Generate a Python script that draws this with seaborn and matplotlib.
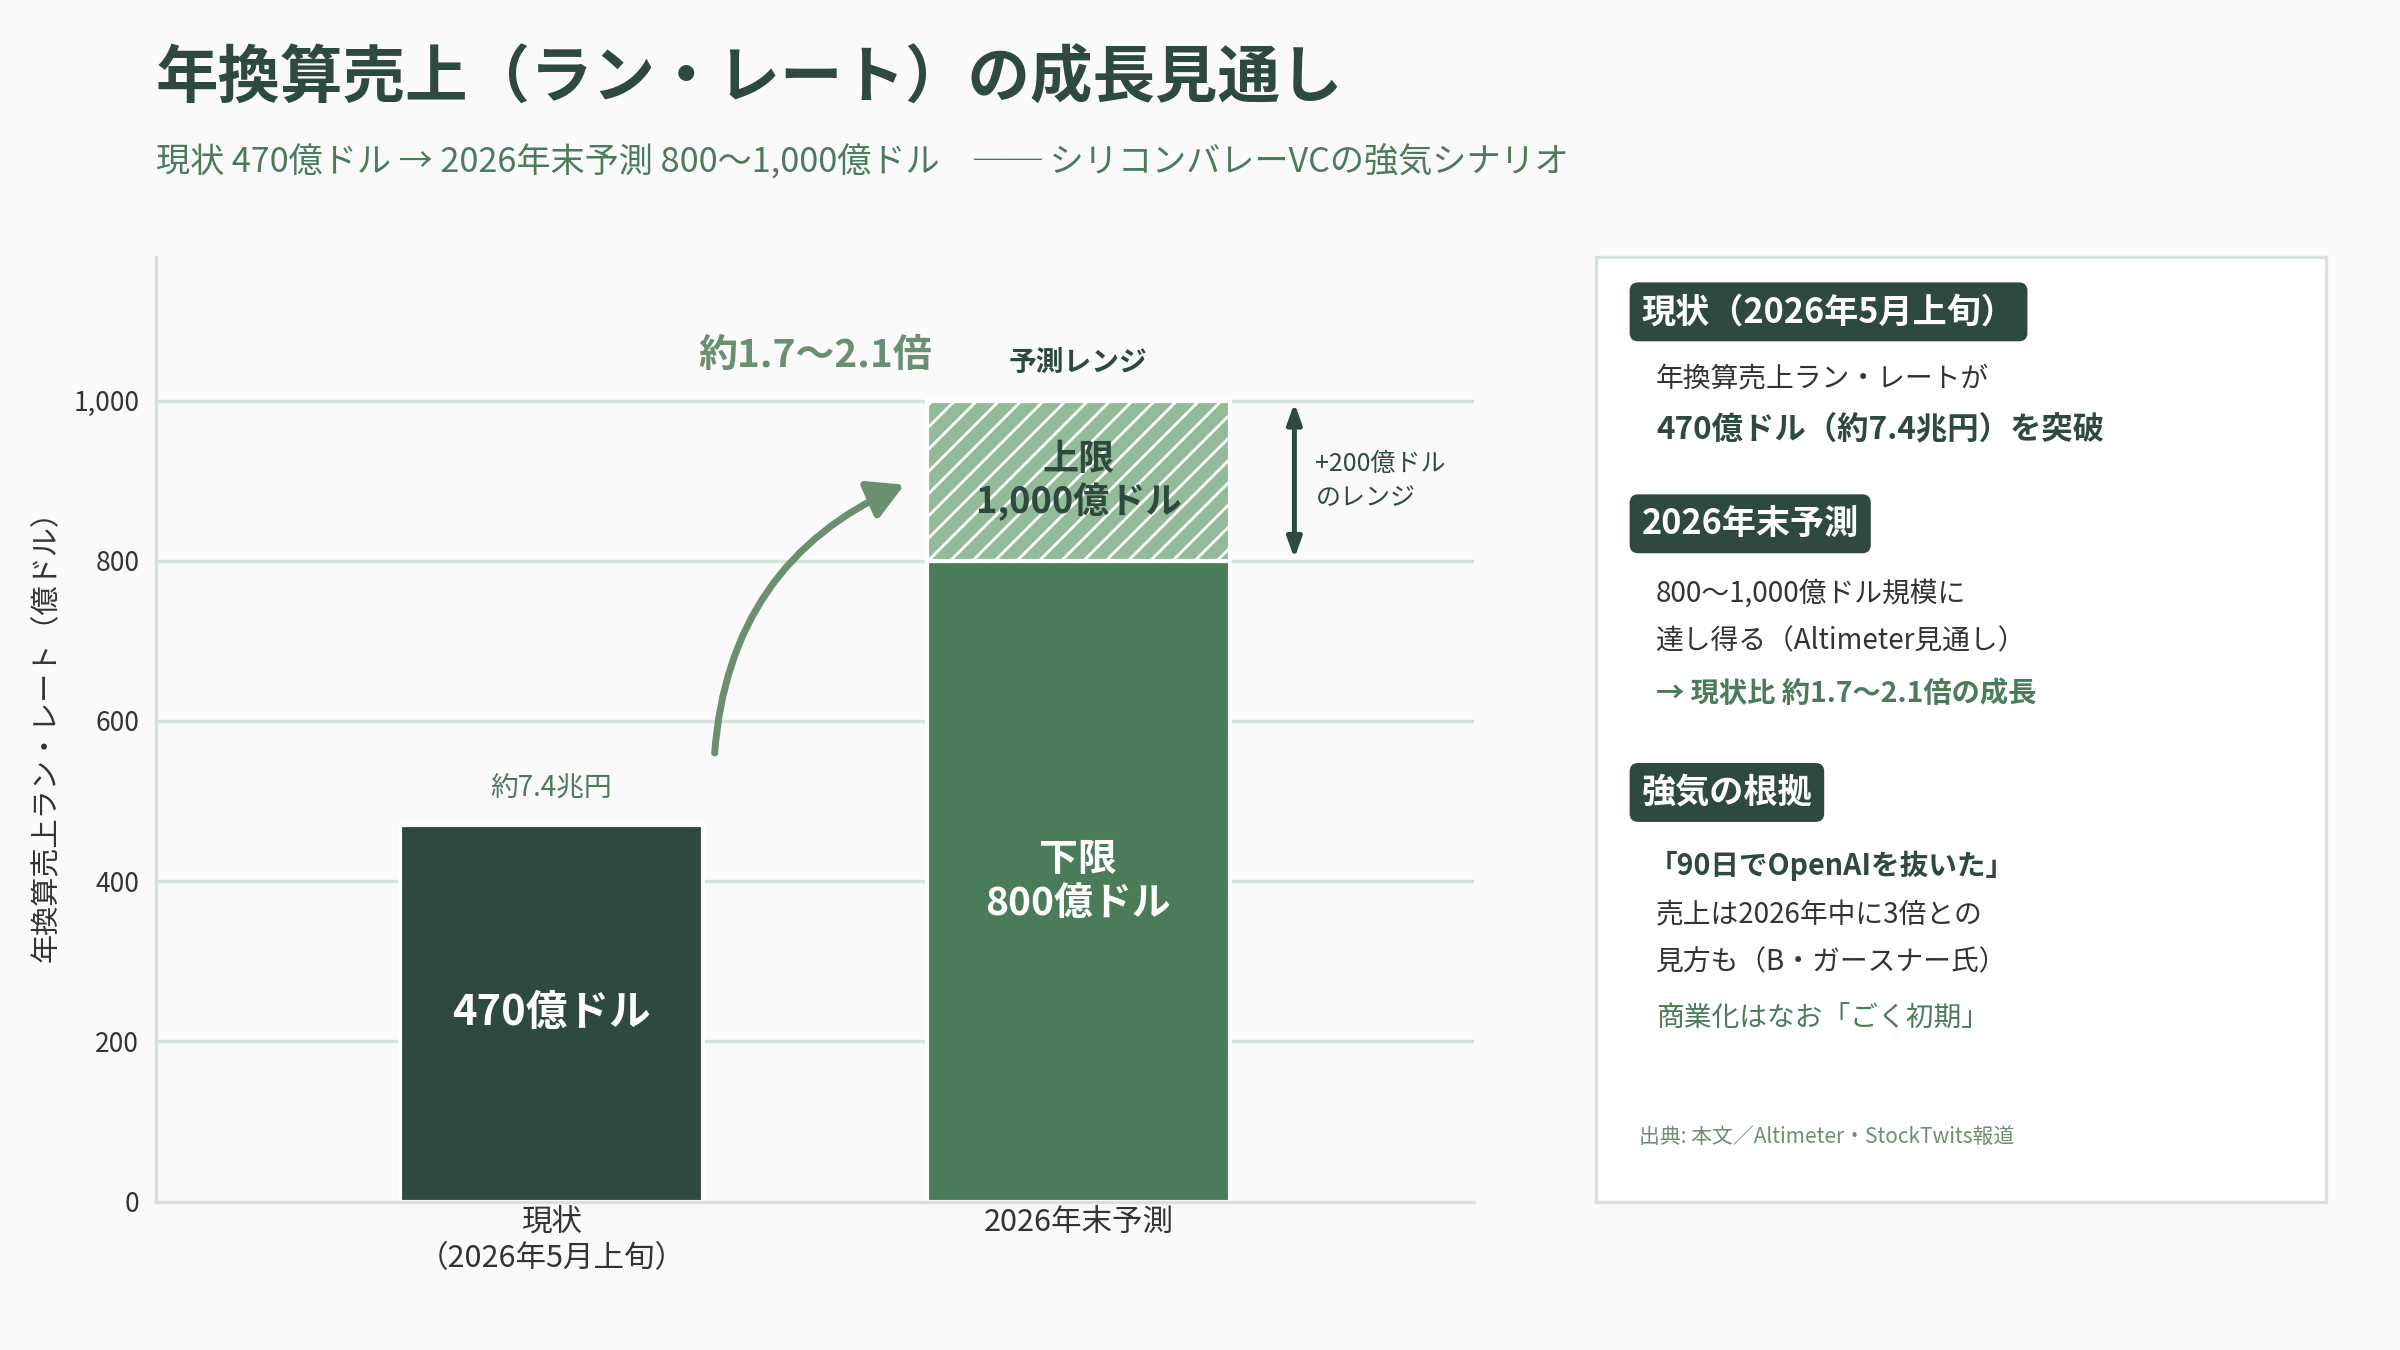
import matplotlib
matplotlib.use("Agg")
import matplotlib.pyplot as plt
from matplotlib.patches import Rectangle
import seaborn as sns
import pandas as pd

# データ（億ドル）
categories = ["現状\n（2026年5月上旬）", "2026年末予測"]
base_values = [470, 800]      # 現状 / 予測の下限
upper_values = [0, 200]       # 上限までの上乗せ分
yticks = [0, 200, 400, 600, 800, 1000]

DARK = "#2e4a3e"
MID = "#4a7c59"
LIGHT = "#93bb97"
ARROW = "#6b8f71"
GRID = "#d6e2da"
BG = "#fafafa"
TXT = "#333333"

sns.set_theme(style="white")
plt.rcParams["font.family"] = ["Noto Sans CJK JP", "DejaVu Sans"]
plt.rcParams["hatch.linewidth"] = 1.0

fig = plt.figure(figsize=(12, 6.75), dpi=200, facecolor=BG)
ax = fig.add_axes([0.065, 0.11, 0.549, 0.70])
ax.set_facecolor(BG)

df = pd.DataFrame({"cat": categories, "value": base_values})
sns.barplot(data=df, x="cat", y="value", hue="cat", palette=[DARK, MID],
            saturation=1, width=0.575, edgecolor="white", linewidth=1.5,
            legend=False, ax=ax)

# 予測レンジ（上限まで）をハッチで重ねる
idx = [i for i, v in enumerate(upper_values) if v > 0]
ax.bar(idx, [upper_values[i] for i in idx], bottom=[base_values[i] for i in idx],
       width=0.575, color=LIGHT, edgecolor="white", hatch="///", linewidth=1.5)

ax.set_xlim(-0.75, 1.75)
ax.set_ylim(0, 1180)
ax.set_yticks(yticks)
ax.set_yticklabels([f"{v:,}" for v in yticks])
ax.yaxis.grid(True, color=GRID, linewidth=1.2)
ax.set_axisbelow(True)
for s in ["top", "right"]:
    ax.spines[s].set_visible(False)
for s in ["left", "bottom"]:
    ax.spines[s].set_color(GRID)
    ax.spines[s].set_linewidth(1.2)
ax.tick_params(axis="both", length=0, colors=TXT)
ax.tick_params(axis="y", labelsize=9.5, pad=6)
ax.tick_params(axis="x", labelsize=11, pad=2)
ax.set_xlabel("")
ax.set_ylabel("年換算売上ラン・レート（億ドル）", fontsize=10.5, color=TXT, labelpad=4)

# バー内ラベル
ax.text(0, base_values[0] / 2, f"{base_values[0]}億ドル", ha="center", va="center",
        color="white", fontsize=15, fontweight="bold")
ax.text(1, base_values[1] / 2, f"下限\n{base_values[1]}億ドル", ha="center", va="center",
        color="white", fontsize=14, fontweight="bold", linespacing=1.15)
top = base_values[1] + upper_values[1]
ax.text(1, base_values[1] + upper_values[1] / 2, f"上限\n{top:,}億ドル", ha="center",
        va="center", color=DARK, fontsize=13, fontweight="bold", linespacing=1.15)
ax.text(0, base_values[0] + 28, "約7.4兆円", ha="center", va="bottom", color=MID, fontsize=10)
ax.text(1, top + 30, "予測レンジ", ha="center", va="bottom", color=DARK,
        fontsize=10, fontweight="bold")

# 成長倍率の矢印
ax.annotate("", xy=(0.67, 895), xytext=(0.31, 560),
            arrowprops=dict(arrowstyle="-|>,head_length=0.9,head_width=0.5", color=ARROW,
                            lw=2.5, connectionstyle="arc3,rad=-0.3", shrinkA=0, shrinkB=0))
ax.text(0.50, 1057, "約1.7〜2.1倍", ha="center", va="center", color=ARROW,
        fontsize=14, fontweight="bold")

# レンジ幅の両矢印
ax.annotate("", xy=(1.41, top - 3), xytext=(1.41, base_values[1] + 3),
            arrowprops=dict(arrowstyle="<|-|>,head_length=0.5,head_width=0.18",
                            color=DARK, lw=1.8, shrinkA=0, shrinkB=0))
ax.text(1.45, base_values[1] + upper_values[1] / 2, "+200億ドル\nのレンジ", ha="left",
        va="center", color=DARK, fontsize=9, linespacing=1.4)

# タイトル
fig.text(0.065, 0.941, "年換算売上（ラン・レート）の成長見通し", fontsize=22.5,
         fontweight="bold", color=DARK, va="center")
fig.text(0.065, 0.879,
         "現状 470億ドル → 2026年末予測 800〜1,000億ドル　── シリコンバレーVCの強気シナリオ",
         fontsize=12.3, color=MID, va="center")

# 右側の解説パネル
fig.add_artist(Rectangle((0.665, 0.110), 0.304, 0.70, transform=fig.transFigure,
                         facecolor="white", edgecolor=GRID, linewidth=1.2))

badge = dict(boxstyle="round,pad=0.35,rounding_size=0.25", fc=DARK, ec="none")
fig.text(0.684, 0.769, "現状（2026年5月上旬）", fontsize=12.3, fontweight="bold",
         color="white", va="center", bbox=badge)
fig.text(0.690, 0.719, "年換算売上ラン・レートが", fontsize=10, color=TXT, va="center")
fig.text(0.690, 0.681, "470億ドル（約7.4兆円）を突破", fontsize=11.3, fontweight="bold",
         color=DARK, va="center")

fig.text(0.684, 0.612, "2026年末予測", fontsize=12.3, fontweight="bold",
         color="white", va="center", bbox=badge)
fig.text(0.690, 0.560, "800〜1,000億ドル規模に", fontsize=10, color=TXT, va="center")
fig.text(0.690, 0.525, "達し得る（Altimeter見通し）", fontsize=10, color=TXT, va="center")
fig.text(0.690, 0.486, "→ 現状比 約1.7〜2.1倍の成長", fontsize=10.2, fontweight="bold",
         color=MID, va="center")

fig.text(0.684, 0.413, "強気の根拠", fontsize=12.3, fontweight="bold",
         color="white", va="center", bbox=badge)
fig.text(0.687, 0.359, "「90日でOpenAIを抜いた」", fontsize=10.3, fontweight="bold",
         color=DARK, va="center")
fig.text(0.690, 0.322, "売上は2026年中に3倍との", fontsize=10, color=TXT, va="center")
fig.text(0.690, 0.287, "見方も（B・ガースナー氏）", fontsize=10, color=TXT, va="center")
fig.text(0.690, 0.245, "商業化はなお「ごく初期」", fontsize=10, color=MID, va="center")
fig.text(0.683, 0.158, "出典: 本文／Altimeter・StockTwits報道", fontsize=7.5,
         color=ARROW, va="center")

plt.savefig("out.png", dpi=200, facecolor=BG)
